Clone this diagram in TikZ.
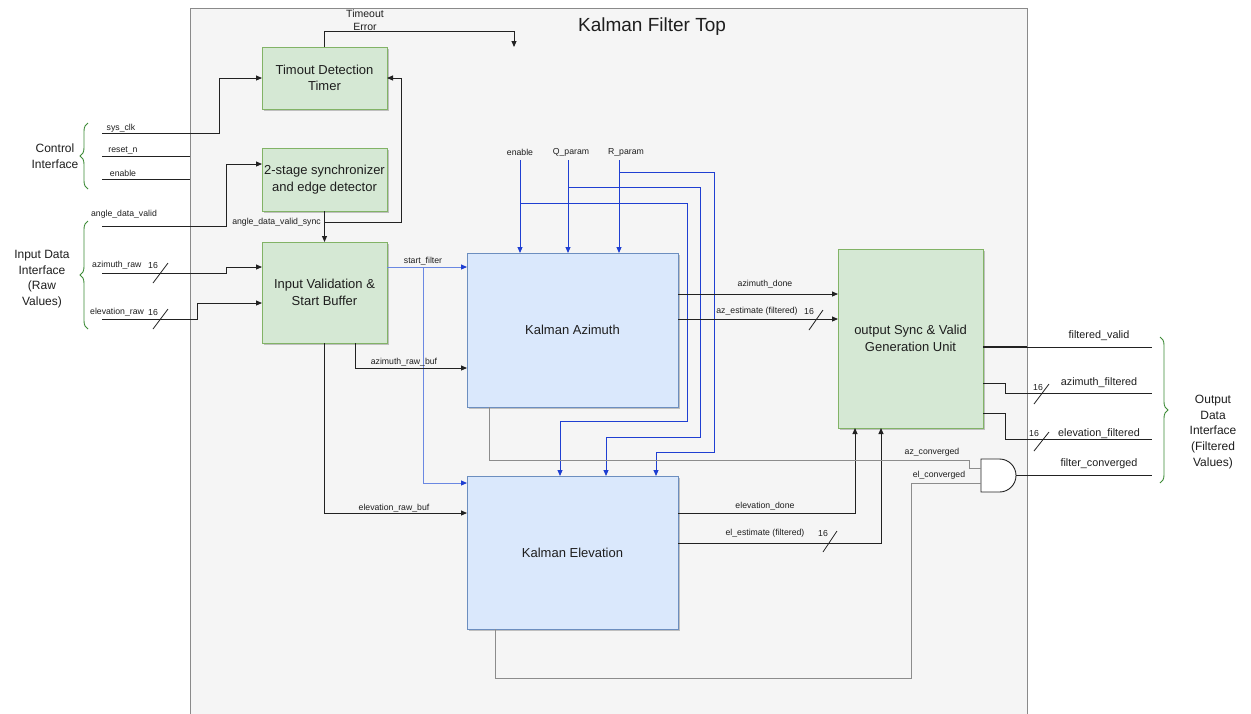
\documentclass[tikz,border=0pt]{standalone}
\usepackage{fontspec}
\setmainfont{Liberation Sans}
\usetikzlibrary{arrows.meta,decorations.pathreplacing,shadows}
\definecolor{gfill}{HTML}{D5E8D4}
\definecolor{gline}{HTML}{82B366}
\definecolor{bfill}{HTML}{DAE8FC}
\definecolor{bline}{HTML}{6C8EBF}
\definecolor{cont}{HTML}{F5F5F5}
\definecolor{contline}{HTML}{8A8A8A}
\definecolor{pblue}{HTML}{1F3FD2}
\definecolor{sblue}{HTML}{6A88E2}
\definecolor{braceg}{HTML}{3D8B37}
\definecolor{txt}{HTML}{1E1E1E}
\definecolor{wire}{HTML}{222222}
\definecolor{gwire}{HTML}{8C8C8C}
\begin{document}
\begin{tikzpicture}[x=1pt,y=-1pt,
  box/.style={rectangle, inner sep=2pt, outer sep=0pt, line width=0.9pt, align=center,
    text=txt, font=\fontsize{13}{16.5}\selectfont,
    drop shadow={shadow xshift=1.6pt, shadow yshift=-1.6pt, opacity=0.22, fill=black}},
  gbox/.style={box, fill=gfill, draw=gline},
  bbox/.style={box, fill=bfill, draw=bline},
  lbl/.style={font=\fontsize{8.7}{10}\selectfont, inner sep=0pt, text=txt},
  olbl/.style={font=\fontsize{10.8}{12}\selectfont, inner sep=0pt, text=txt},
  blbl/.style={font=\fontsize{12}{15.7}\selectfont, inner sep=0pt, text=txt, align=center},
  wr/.style={draw=wire, line width=0.9pt},
  gw/.style={draw=gwire, line width=0.9pt},
  arr/.style={-{Triangle[length=6pt,width=5pt]}},
  barr/.style={-{Triangle[length=6pt,width=5pt,color=pblue]}},
  pw/.style={draw=pblue, line width=0.9pt},
  sw/.style={draw=sblue, line width=0.9pt},
  brc/.style={draw=braceg, line width=0.9pt, decorate, decoration={brace, amplitude=8pt}},
  slash/.style={draw=wire, line width=0.8pt}
]
\useasboundingbox (0,0) rectangle (1251,713);
\fill[white] (0,0) rectangle (1251,713);

% container
\fill[cont] (190,8) rectangle (1027,714);
\draw[contline, line width=0.9pt] (190,714) -- (190,8) -- (1027,8) -- (1027,714);
\node[font=\fontsize{19}{22}\selectfont, text=txt, inner sep=0] (title) at (652,27) {Kalman Filter Top};

% blocks
\node[gbox, minimum width=125pt, minimum height=62pt] (timeout) at (324.5,78) {Timout Detection\\Timer};
\node[gbox, minimum width=125pt, minimum height=63pt] (sync) at (324.5,179.5) {2-stage synchronizer\\and edge detector};
\node[gbox, minimum width=125pt, minimum height=101pt] (ivsb) at (324.5,292.5) {Input Validation \&\\Start Buffer};
\node[bbox, minimum width=211pt, minimum height=154pt] (kaz) at (572.5,330) {Kalman Azimuth};
\node[bbox, minimum width=211pt, minimum height=153pt] (kel) at (572.5,552.5) {Kalman Elevation};
\node[gbox, minimum width=145pt, minimum height=179pt] (osync) at (910.5,338.5) {output Sync \& Valid\\Generation Unit};

% AND gate
\node[minimum width=35pt, minimum height=33pt, inner sep=0, outer sep=0] (andg) at (998.5,475.5) {};
\draw[draw=wire, line width=0.9pt, fill=white] (andg.north west) -- (999.5,459) arc(-90:90:16.5) -- (andg.south west) -- cycle;
\coordinate (andA) at (981,468);
\coordinate (andB) at (981,483);
\coordinate (andY) at (1016,475);

% braces and interface texts
\draw[brc] (88,189) -- (88,123);
\node[blbl] (ctrl) at (55,156) {Control\\Interface};
\draw[brc] (88,329) -- (88,221);
\node[blbl] (indata) at (42,279) {Input Data\\Interface\\(Raw\\Values)};
\draw[brc] (1160,337) -- (1160,483);
\node[blbl] (outdata) at (1213,432) {Output\\Data\\Interface\\(Filtered\\Values)};

% left input free ends
\coordinate (sysclk) at (102,133);
\coordinate (resetn) at (102,156);
\coordinate (enin) at (102,179);
\coordinate (adv) at (102,226);
\coordinate (azraw) at (102,273);
\coordinate (elraw) at (102,319);
\coordinate (resetend) at (190,156);
\coordinate (enend) at (190,179);

\draw[wr, arr] (sysclk) -- (219,133) -- (219,78) -- (timeout.west);
\draw[wr] (resetn) -- (resetend);
\draw[wr] (enin) -- (enend);
\draw[wr, arr] (adv) -- (226,226) -- (226,164) -- (sync.west |- 0,164);
\draw[wr, arr] (azraw) -- (226,273) -- (226,267) -- (ivsb.west |- 0,267);
\draw[wr, arr] (elraw) -- (197,319) -- (197,303) -- (ivsb.west |- 0,303);
\draw[slash] (153,283) -- (168,263);
\draw[slash] (153,329) -- (168,309);

\node[lbl] (l_sysclk) at (121,128) {sys\_clk};
\node[lbl] (l_reset) at (123,151) {reset\_n};
\node[lbl] (l_en) at (123,173) {enable};
\node[lbl] (l_adv) at (124,214) {angle\_data\_valid};
\node[lbl, anchor=west] (l_azraw) at (92,265) {azimuth\_raw};
\node[lbl] (l_az16) at (153,265) {16};
\node[lbl, anchor=west] (l_elraw) at (90,312) {elevation\_raw};
\node[lbl] (l_el16) at (153,312) {16};

% sync output and feedback
\draw[wr, arr] (sync.south) -- (ivsb.north);
\draw[wr, arr] (324.5,222) -- (401,222) -- (401,78) -- (timeout.east);
\node[lbl, anchor=east] (l_advs) at (321,222) {angle\_data\_valid\_sync};

% timeout error
\coordinate (terr) at (514,47);
\draw[wr, arr] (timeout.north) -- (324.5,31.5) -- (514,31.5) -- (terr);
\node[font=\fontsize{10.5}{13.5}\selectfont, text=txt, inner sep=0, align=center] (l_terr) at (365,20) {Timeout\\Error};

% start filter
\draw[sw, barr] (ivsb.east |- 0,267) -- (kaz.west |- 0,267);
\draw[sw, barr] (423,267) -- (423,483) -- (kel.west |- 0,483);
\node[lbl] (l_sf) at (423,261) {start\_filter};

% raw buffers
\draw[wr, arr] (ivsb.south -| 355,0) -- (355,368) -- (kaz.west |- 0,368);
\node[lbl] (l_azb) at (404,362) {azimuth\_raw\_buf};
\draw[wr, arr] (ivsb.south) -- (324.5,513) -- (kel.west |- 0,513);
\node[lbl] (l_elb) at (394,508) {elevation\_raw\_buf};

% parameters
\node[lbl] (p_en) at (520,152) {enable};
\node[lbl] (p_q) at (571,152) {Q\_param};
\node[lbl] (p_r) at (626,152) {R\_param};
\draw[pw, arr] (520,160) -- (kaz.north -| 520,0);
\draw[pw, arr] (568,160) -- (kaz.north -| 568,0);
\draw[pw, arr] (619,160) -- (kaz.north -| 619,0);
\draw[pw, arr] (520,203) -- (687,203) -- (687,421) -- (560,421) -- (kel.north -| 560,0);
\draw[pw, arr] (568,187) -- (700,187) -- (700,437) -- (606,437) -- (kel.north -| 606,0);
\draw[pw, arr] (619,172) -- (714,172) -- (714,452) -- (656,452) -- (kel.north -| 656,0);

% azimuth outputs
\draw[wr, arr] (kaz.east |- 0,294) -- (osync.west |- 0,294);
\node[lbl] (l_azd) at (765,284) {azimuth\_done};
\draw[wr, arr] (kaz.east |- 0,319) -- (osync.west |- 0,319);
\node[lbl] (l_aze) at (757,311) {az\_estimate (filtered)};
\node[lbl] (l_aze16) at (809,311) {16};
\draw[slash] (809,330) -- (823,310);

% elevation outputs
\draw[wr, arr] (kel.east |- 0,513) -- (855,513) -- (osync.south -| 855,0);
\node[lbl] (l_eld) at (765,506) {elevation\_done};
\draw[wr, arr] (kel.east |- 0,543) -- (881,543) -- (osync.south -| 881,0);
\node[lbl] (l_ele) at (765,533) {el\_estimate (filtered)};
\node[lbl] (l_ele16) at (823,533) {16};
\draw[slash] (823,552) -- (837,531);

% converged
\draw[gw] (kaz.south -| 489,0) -- (489,460) -- (969,460) -- (969,468) -- (andA);
\draw[gw] (kel.south -| 495,0) -- (495,678) -- (911,678) -- (911,483) -- (andB);
\node[lbl] (l_azc) at (932,452) {az\_converged};
\node[lbl] (l_elc) at (939,475) {el\_converged};

% outputs right
\coordinate (o_fv) at (1152,347);
\coordinate (o_az) at (1152,393);
\coordinate (o_el) at (1152,439);
\coordinate (o_fc) at (1152,475);
\draw[draw=wire, line width=1.8pt] (osync.east |- 0,347) -- (1027,347);
\draw[wr] (1027,347) -- (o_fv);
\draw[wr] (osync.east |- 0,383) -- (1005,383) -- (1005,393) -- (o_az);
\draw[wr] (osync.east |- 0,413) -- (1005,413) -- (1005,439) -- (o_el);
\draw[wr] (andY) -- (o_fc);
\draw[slash] (1034,404) -- (1049,384);
\draw[slash] (1034,451) -- (1049,432);
\node[olbl] (l_fv) at (1099,336) {filtered\_valid};
\node[olbl] (l_azf) at (1099,383) {azimuth\_filtered};
\node[olbl] (l_elf) at (1099,434) {elevation\_filtered};
\node[olbl] (l_fc) at (1099,464) {filter\_converged};
\node[lbl] (l_azf16) at (1038,387) {16};
\node[lbl] (l_elf16) at (1034,433) {16};
\end{tikzpicture}
\end{document}
